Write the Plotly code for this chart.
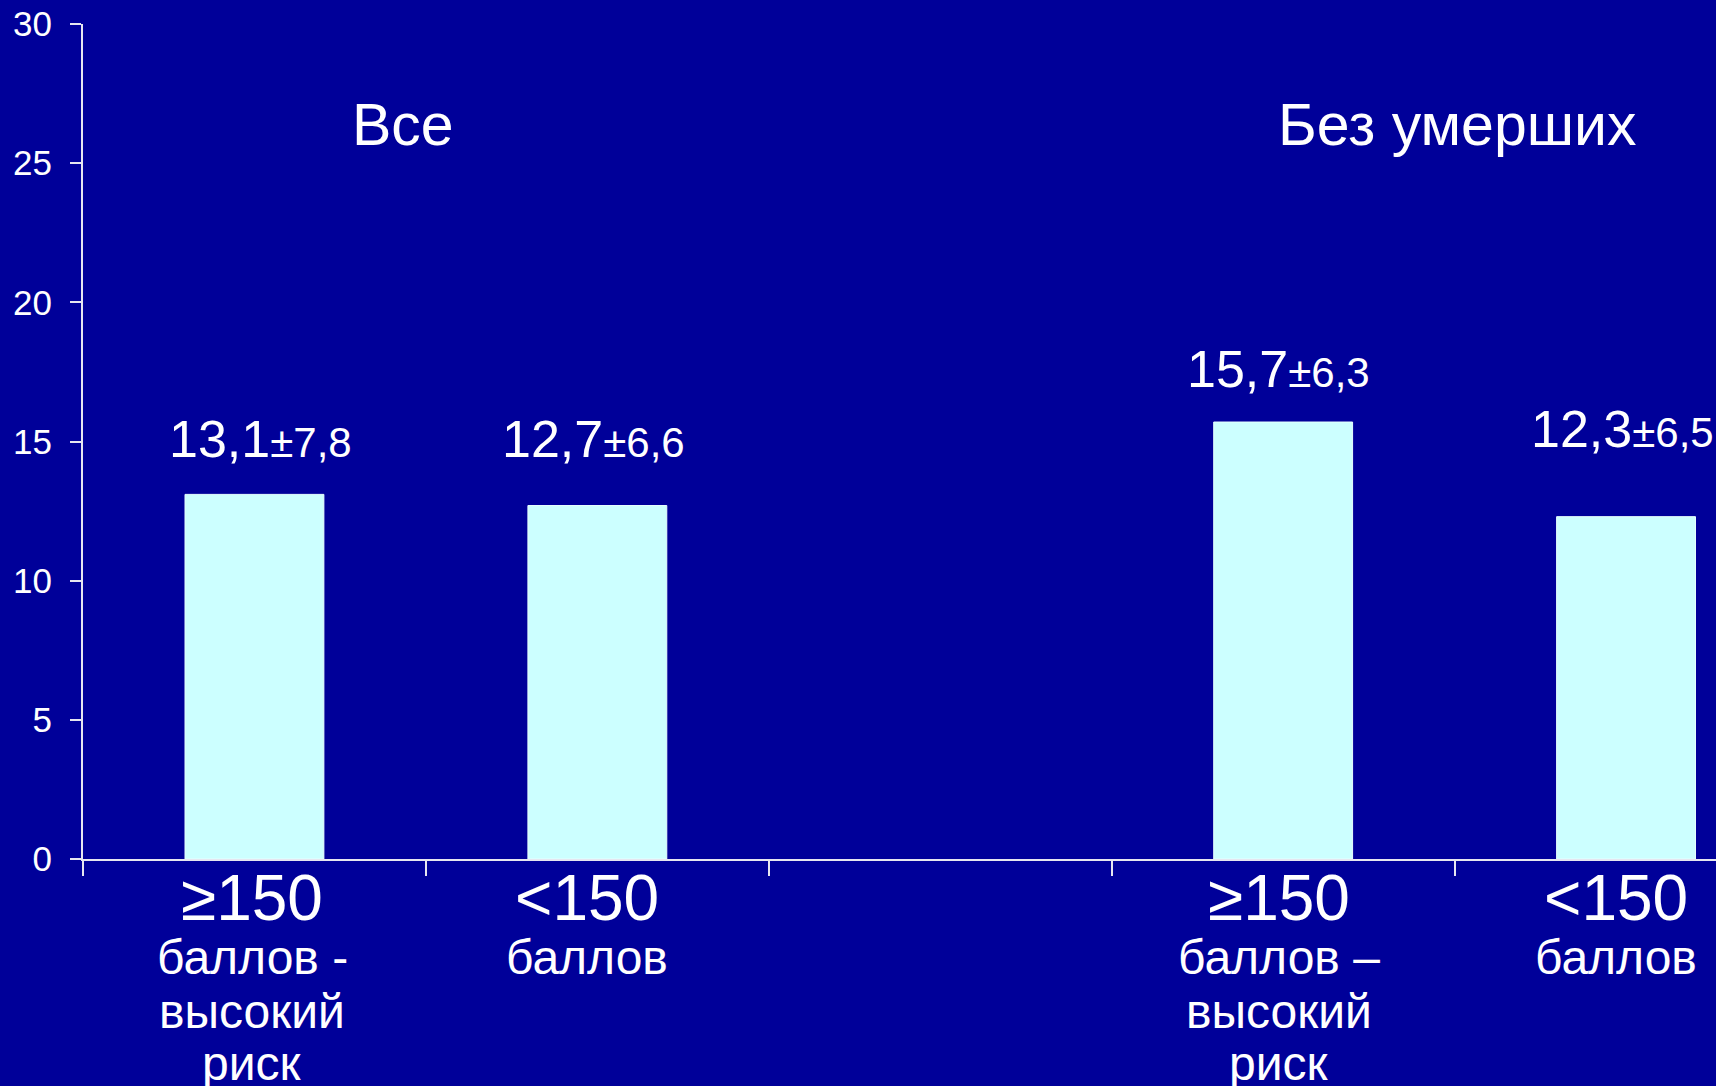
import plotly.graph_objects as go

# ---- data ----
groups = ["Все", "Без умерших"]
cat_main = ["≥150", "<150", "≥150", "<150"]
cat_sub = [["баллов -", "высокий", "риск"],
           ["баллов"],
           ["баллов –", "высокий", "риск"],
           ["баллов"]]
means = [13.1, 12.7, 15.7, 12.3]
sds = [7.8, 6.6, 6.3, 6.5]
y_ticks = [0, 5, 10, 15, 20, 25, 30]

# ---- layout helpers (positions, not data) ----
x_pos = [0, 1, 3, 4]
group_x = [0.432, 3.507]
W, H = 1716, 1086
M_L, M_R, M_T, M_B = 83, 0, 24, 227
PLOT_H = H - M_T - M_B
Y0_PX = H - M_B


def px_to_paper(py):
    return (Y0_PX - py) / PLOT_H


FONT = "Liberation Sans, Arial, sans-serif"
BG = "#000099"
BAR = "#CCFFFF"
AX = "#E6E6F0"

label_base_px = [457, 457, 387, 447]
label_dx = [6, -4, -5, -4]
main_base_px = 920
sub_base_px = [974, 1028, 1080]
xl_dx = [-2, -10, -4, -10]

fig = go.Figure()
fig.add_trace(go.Bar(
    x=x_pos, y=means, width=0.405,
    marker=dict(color=BAR, line=dict(color="#E8FFFF", width=1)),
    hoverinfo="skip", showlegend=False,
))

ann = []


def add_text(x, base_px, text, size, dx=0):
    ann.append(dict(
        x=x, xref="x", y=px_to_paper(base_px - 0.35 * size), yref="paper",
        text=text, showarrow=False, xanchor="center", yanchor="middle",
        xshift=dx, font=dict(family=FONT, size=size, color="white"),
    ))


def fmt(v):
    return f"{v:.1f}".replace(".", ",")


for i, (m, s) in enumerate(zip(means, sds)):
    add_text(x_pos[i], label_base_px[i],
             f"{fmt(m)}<span style='font-size:42px'>±{fmt(s)}</span>", 52, label_dx[i])

for i, xp in enumerate(x_pos):
    add_text(xp, main_base_px, cat_main[i], 64, xl_dx[i])
    for j, line in enumerate(cat_sub[i]):
        add_text(xp, sub_base_px[j], line, 48, xl_dx[i])

for g, gx in zip(groups, group_x):
    add_text(gx, 146, g, 59)

fig.update_layout(
    width=W, height=H,
    margin=dict(l=M_L, r=M_R, t=M_T, b=M_B, pad=0),
    paper_bgcolor=BG, plot_bgcolor=BG,
    annotations=ann,
    xaxis=dict(
        range=[-0.5, -0.5 + (W - M_L - M_R) / 342.9],
        tickmode="array", tickvals=[-0.5, 0.5, 1.5, 2.5, 3.5],
        showticklabels=False, ticks="outside", ticklen=15, tickwidth=2,
        tickcolor=AX, showline=True, linecolor=AX, linewidth=2,
        showgrid=False, zeroline=False, fixedrange=True,
    ),
    yaxis=dict(
        range=[0, 30], tickmode="array", tickvals=y_ticks,
        ticktext=[str(t) for t in y_ticks],
        ticks="outside", ticklen=11, tickwidth=2, tickcolor=AX,
        ticklabelstandoff=11,
        tickfont=dict(family=FONT, size=35, color="white"),
        showline=True, linecolor=AX, linewidth=2,
        showgrid=False, zeroline=False, fixedrange=True,
    ),
)

fig.write_html("out.html")
